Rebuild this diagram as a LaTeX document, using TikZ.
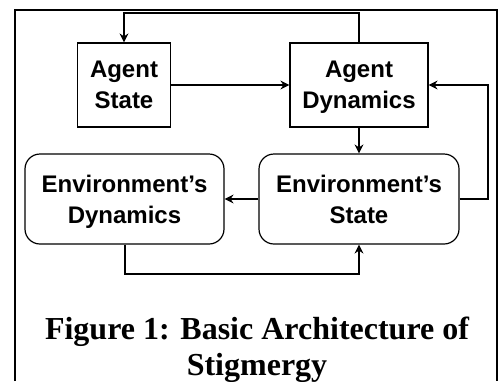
\documentclass[tikz,border=0pt]{standalone}
\usepackage{fontspec}
\setmainfont{Liberation Serif}
\newfontfamily\boxfont{Liberation Sans}
\usetikzlibrary{arrows.meta}
\begin{document}
\begin{tikzpicture}[x=1pt,y=-1pt,
  block/.style={draw,line width=1.2pt,inner sep=0pt,align=center,text depth=0pt,
    font=\boxfont\bfseries\fontsize{24}{31}\selectfont},
  roundblock/.style={block,rounded corners=15pt},
  arr/.style={line width=2pt,-{Stealth[length=9pt,width=9pt,inset=3pt]}}]
\useasboundingbox(0,0)rectangle(498,381);
\draw[line width=2pt](15,381)--(15,10)--(496.5,10)--(496.5,381);
%
\node[block,minimum width=93pt,minimum height=84pt](agentstate)at(124,85){Agent\\State};
\node[block,minimum width=138pt,minimum height=84pt](agentdyn)at(359,85){Agent\\Dynamics};
\node[roundblock,minimum width=199pt,minimum height=90pt](envdyn)at(124.5,199){Environment’s\\Dynamics};
\node[roundblock,minimum width=200pt,minimum height=90pt](envstate)at(359,199){Environment’s\\State};
%
\draw[arr](agentdyn.north)--++(0,-29)-|(agentstate.north);
\draw[arr](agentstate.east)--(agentstate.east-|agentdyn.west);
\draw[arr](envstate.east)--++(28,0)|-(agentdyn.east);
\draw[arr](agentdyn.south)--(envstate.north);
\draw[arr](envstate.west)--(envdyn.east);
\draw[arr](envdyn.south)--++(0,29)-|(envstate.south);
%
\node[anchor=north,inner sep=0pt,align=center,text depth=0pt,
  font=\bfseries\fontsize{32}{36}\selectfont](caption)at(257,317)
  {Figure 1: Basic Architecture of\\Stigmergy};
\end{tikzpicture}
\end{document}
